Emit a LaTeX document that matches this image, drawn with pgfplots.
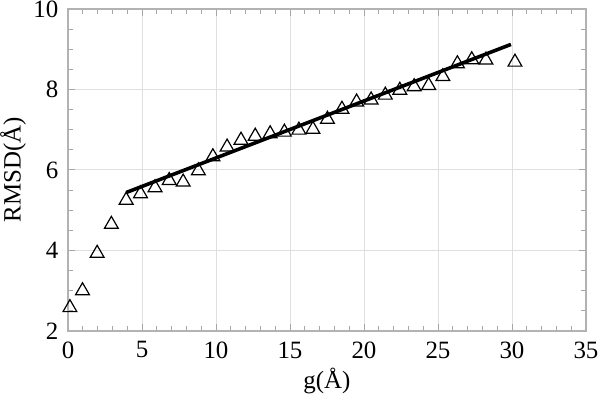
\documentclass[border=0pt]{standalone}
\usepackage{fontspec}
\setmainfont{Liberation Serif}
\usepackage{pgfplots}
\pgfplotsset{compat=1.18}

\begin{document}
\fontsize{12.5}{15}\selectfont
\begin{tikzpicture}
 \begin{axis}[
    scale only axis,
    width=259bp, height=161bp,
    xmin=0, xmax=35, ymin=2, ymax=10,
    xtick={0,5,...,35}, ytick={2,4,...,10},
    minor x tick num=4, minor y tick num=3,
    tick align=inside,
    major tick length=3.5bp, minor tick length=2.5bp,
    every tick/.style={gray!70, line width=0.5pt},
    axis line style={gray!60, line width=0.6pt},
    grid=major,
    major grid style={gray!25, line width=0.5pt},
    xlabel={g(Å)}, ylabel={RMSD(Å)},
    xlabel style={at={(axis description cs:0.5,-0.155)}, anchor=center},
    ylabel style={at={(axis description cs:-0.106,0.5)}, anchor=center},
    xticklabel style={yshift=-1bp},
    yticklabel style={xshift=-0.5bp},
    /pgf/number format/assume math mode=true,
    tick label style={font=\fontsize{12.5}{15}\selectfont},
    label style={font=\fontsize{12.5}{15}\selectfont},
    clip=false,
 ]
  \addplot[only marks, mark=triangle, mark size=4pt, mark options={black, line width=0.6pt}] coordinates {
(0.13, 2.58) (0.98, 3.00) (1.97, 3.93) (2.93, 4.65) (3.93, 5.25)
(4.90, 5.41) (5.88, 5.56) (6.84, 5.74) (7.78, 5.70) (8.81, 5.98)
(9.79, 6.33) (10.75, 6.57) (11.69, 6.74) (12.65, 6.84) (13.66, 6.90)
(14.62, 6.94) (15.60, 6.99) (16.55, 7.01) (17.53, 7.26) (18.51, 7.51)
(19.50, 7.69) (20.48, 7.74) (21.44, 7.86) (22.42, 7.98) (23.39, 8.07)
(24.37, 8.10) (25.33, 8.32) (26.31, 8.64) (27.28, 8.74) (28.24, 8.73)
(30.20, 8.68)
};
  \addplot[black, line width=1.8pt] coordinates {
(3.93, 5.44) (29.93, 9.12)
};
  \coordinate (bl) at (rel axis cs:0,0);
  \coordinate (tr) at (rel axis cs:1,1);
 \end{axis}
 \pgfresetboundingbox
 \path ([shift={(-34bp,-37bp)}]bl) rectangle ([shift={(7bp,4.5bp)}]tr);
\end{tikzpicture}
\end{document}
